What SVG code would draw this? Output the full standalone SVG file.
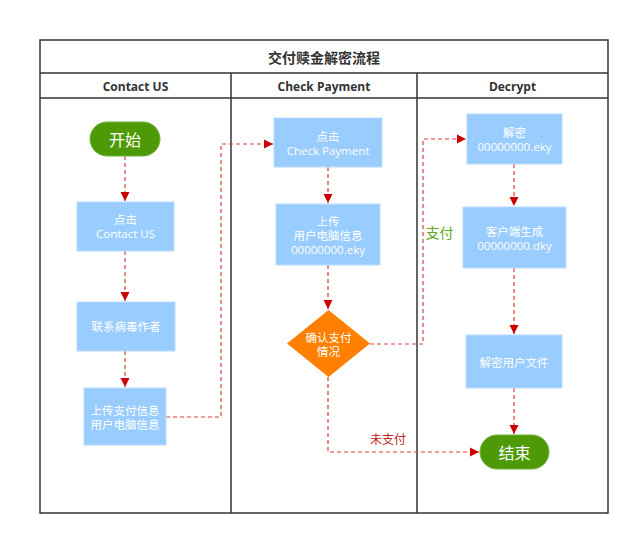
<svg xmlns="http://www.w3.org/2000/svg" width="636" height="541" viewBox="0 0 636 541">
<defs>
<marker id="arr" markerWidth="10" markerHeight="10" refX="9" refY="5" orient="auto" markerUnits="userSpaceOnUse">
<path d="M0,0.5 L9,5 L0,9.5 Z" fill="#cc0000"/>
</marker>
<style>
.lane{fill:none;stroke:#333;stroke-width:1.5}
.hd{font-family:"Open Sans","Noto Sans CJK SC",sans-serif;font-weight:bold;font-size:12px;fill:#333;text-anchor:middle;dominant-baseline:central}
.ttl{font-family:"Noto Sans CJK SC",sans-serif;font-weight:bold;font-size:14px;fill:#333;text-anchor:middle;dominant-baseline:central}
.box{fill:#99ccff;stroke:#b8dcff;stroke-width:1}
.bt{font-family:"Open Sans","Noto Sans CJK SC",sans-serif;font-size:11.5px;fill:#fff;text-anchor:middle;dominant-baseline:central}
.term{fill:#4e9a06;stroke:#6cb33e;stroke-width:1}
.tt{font-family:"Noto Sans CJK SC",sans-serif;font-size:16px;fill:#fff;text-anchor:middle;dominant-baseline:central}
.dec{fill:#ff8000}
.con{fill:none;stroke:#e03c3c;stroke-width:1.2;stroke-dasharray:4,3;marker-end:url(#arr)}
.lbl{font-family:"Noto Sans CJK SC",sans-serif;text-anchor:middle;dominant-baseline:central}
</style>
</defs>
<rect width="636" height="541" fill="#fff"/>
<g id="pool">
<rect class="lane" x="40" y="40" width="568" height="473"/>
<line class="lane" x1="40" y1="73" x2="608" y2="73"/>
<line class="lane" x1="40" y1="98" x2="608" y2="98"/>
<line class="lane" x1="231" y1="73" x2="231" y2="513"/>
<line class="lane" x1="417" y1="73" x2="417" y2="513"/>
<text class="ttl" x="324" y="57">交付赎金解密流程</text>
<text class="hd" x="135.5" y="86">Contact US</text>
<text class="hd" x="324" y="86">Check Payment</text>
<text class="hd" x="512.5" y="86">Decrypt</text>
</g>
<g id="connectors">
<path class="con" d="M125,156 V201"/>
<path class="con" d="M125,251 V301"/>
<path class="con" d="M125,351 V387"/>
<path class="con" d="M166,417 H221 V144 H273"/>
<path class="con" d="M328,167 V203"/>
<path class="con" d="M328,265 V309"/>
<path class="con" d="M370,344 H423 V139 H466"/>
<path class="con" d="M514,164 V206"/>
<path class="con" d="M514,268 V334"/>
<path class="con" d="M514,388 V434"/>
<path class="con" d="M328,377 V452 H479"/>
<text class="lbl" x="439.5" y="232" font-size="14" fill="#66aa22">支付</text>
<text class="lbl" x="388" y="438" font-size="12" fill="#b22">未支付</text>
</g>
<g id="start">
<rect class="term" x="90" y="122" width="70" height="34" rx="17"/>
<text class="tt" x="125" y="139">开始</text>
</g>
<g id="click-contact">
<rect class="box" x="77" y="202" width="97" height="49"/>
<text class="bt" x="125.5" y="219">点击</text>
<text class="bt" x="125.5" y="233">Contact US</text>
</g>
<g id="contact-author">
<rect class="box" x="77" y="302" width="98" height="49"/>
<text class="bt" x="126" y="326">联系病毒作者</text>
</g>
<g id="upload-pay">
<rect class="box" x="84" y="388" width="82" height="57"/>
<text class="bt" x="125" y="410">上传支付信息</text>
<text class="bt" x="125" y="424">用户电脑信息</text>
</g>
<g id="click-check">
<rect class="box" x="274" y="118" width="108" height="49"/>
<text class="bt" x="328" y="136">点击</text>
<text class="bt" x="328" y="150">Check Payment</text>
</g>
<g id="upload-info">
<rect class="box" x="276" y="204" width="104" height="61"/>
<text class="bt" x="328" y="221">上传</text>
<text class="bt" x="328" y="235">用户电脑信息</text>
<text class="bt" x="328" y="249">00000000.eky</text>
</g>
<g id="confirm">
<polygon class="dec" points="328.5,310 370,343.5 328.5,377 287,343.5"/>
<text class="bt" x="328.5" y="337">确认支付</text>
<text class="bt" x="328.5" y="351">情况</text>
</g>
<g id="decrypt-eky">
<rect class="box" x="467" y="114" width="95" height="50"/>
<text class="bt" x="514.5" y="132">解密</text>
<text class="bt" x="514.5" y="146">00000000.eky</text>
</g>
<g id="gen-dky">
<rect class="box" x="463" y="207" width="103" height="61"/>
<text class="bt" x="514.5" y="231">客户端生成</text>
<text class="bt" x="514.5" y="245">00000000.dky</text>
</g>
<g id="decrypt-files">
<rect class="box" x="466" y="335" width="96" height="53"/>
<text class="bt" x="514" y="362">解密用户文件</text>
</g>
<g id="end">
<rect class="term" x="480" y="435" width="69" height="34" rx="17"/>
<text class="tt" x="514.5" y="452">结束</text>
</g>
</svg>
